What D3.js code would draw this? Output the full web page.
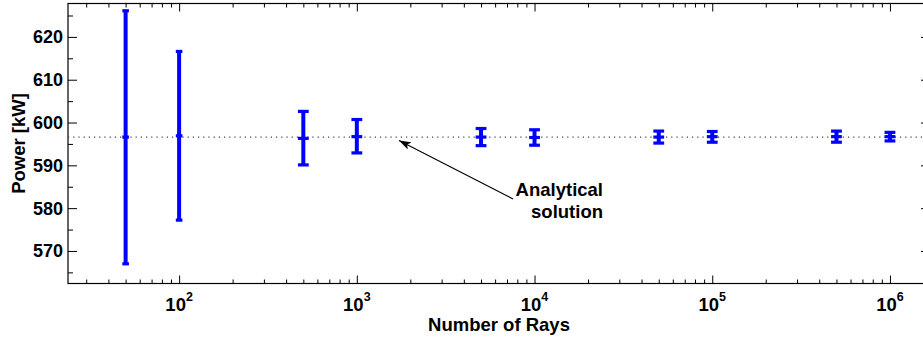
<!DOCTYPE html>
<html>
<head>
<meta charset="utf-8">
<script src="https://cdn.jsdelivr.net/npm/d3@7"></script>
<style>
  body { margin: 0; background: #fff; }
  text { font-family: "Liberation Sans", Arial, sans-serif; font-weight: bold; fill: #000; }
</style>
</head>
<body>
<div id="chart"></div>
<script>
// data
let rays = [50, 100, 500, 1000, 5000, 10000, 50000, 100000, 500000, 1000000];
let powerMean  = [596.6, 596.9, 596.3, 596.7, 596.6, 596.5, 596.6, 596.7, 596.7, 596.7];
let powerUpper = [626.1, 616.6, 602.6, 600.7, 598.6, 598.3, 598.0, 597.9, 598.0, 597.7];
let powerLower = [567.0, 577.2, 590.1, 592.9, 594.6, 594.7, 595.2, 595.4, 595.4, 595.7];
let analytical = 596.6;
let xTickValues = [100, 1000, 10000, 100000, 1000000];
let xTickExp = ['2', '3', '4', '5', '6'];
let yTickValues = [570, 580, 590, 600, 610, 620];

let data = rays.map((r, i) => ({rays: r, mean: powerMean[i], hi: powerUpper[i], lo: powerLower[i]}));

let width = 923, height = 342;
let margin = {top: 3.5, bottom: 58.5, left: 68, right: -7};

let svg = d3.select('#chart')
  .append('svg')
  .attr('width', width)
  .attr('height', height)
  .style('display', 'block');

let x = d3.scaleLog()
  .domain([23.7, 1.68e6])
  .range([margin.left, width - margin.right]);

let y = d3.scaleLinear()
  .domain([562.4, 627.8])
  .range([height - margin.bottom, margin.top]);

let x0 = margin.left, x1 = width - margin.right;
let y0 = height - margin.bottom, y1 = margin.top;

// minor ticks
let xMinor = [];
for (let e = 1; e <= 6; e++) {
  for (let m = 2; m <= 9; m++) {
    let v = m * Math.pow(10, e);
    if (v > x.domain()[0] && v < x.domain()[1]) xMinor.push(v);
  }
}
let yMinor = d3.range(565, 630, 10);

function axisLines(g) {
  g.selectAll('.domain').remove();
  g.selectAll('line').attr('stroke', '#000').attr('stroke-width', 1);
}

// bottom & top ticks (inward)
svg.append('g').attr('transform', `translate(0,${y0})`)
  .call(d3.axisBottom(x).tickValues(xTickValues).tickSize(-8).tickFormat(''))
  .call(axisLines);
svg.append('g').attr('transform', `translate(0,${y0})`)
  .call(d3.axisBottom(x).tickValues(xMinor).tickSize(-4).tickFormat(''))
  .call(axisLines);
svg.append('g').attr('transform', `translate(0,${y1})`)
  .call(d3.axisTop(x).tickValues(xTickValues).tickSize(-8).tickFormat(''))
  .call(axisLines);
svg.append('g').attr('transform', `translate(0,${y1})`)
  .call(d3.axisTop(x).tickValues(xMinor).tickSize(-4).tickFormat(''))
  .call(axisLines);

// left & right ticks (inward)
svg.append('g').attr('transform', `translate(${x0},0)`)
  .call(d3.axisLeft(y).tickValues(yTickValues).tickSize(-9).tickFormat(''))
  .call(axisLines);
svg.append('g').attr('transform', `translate(${x0},0)`)
  .call(d3.axisLeft(y).tickValues(yMinor).tickSize(-5).tickFormat(''))
  .call(axisLines);
svg.append('g').attr('transform', `translate(${x1},0)`)
  .call(d3.axisRight(y).tickValues(yTickValues).tickSize(-9).tickFormat(''))
  .call(axisLines);
svg.append('g').attr('transform', `translate(${x1},0)`)
  .call(d3.axisRight(y).tickValues(yMinor).tickSize(-5).tickFormat(''))
  .call(axisLines);

// box
svg.append('rect')
  .attr('x', x0).attr('y', y1)
  .attr('width', x1 - x0).attr('height', y0 - y1)
  .attr('fill', 'none').attr('stroke', '#000').attr('stroke-width', 1.2);

// y tick labels
svg.selectAll('.ylab')
  .data(yTickValues)
  .enter()
  .append('text')
  .attr('x', x0 - 5)
  .attr('y', d => y(d))
  .attr('dy', '0.36em')
  .attr('text-anchor', 'end')
  .style('font-size', '18px')
  .text(d => d);

// x tick labels 10^n
let xl = svg.selectAll('.xlab')
  .data(xTickValues)
  .enter()
  .append('text')
  .attr('x', d => x(d))
  .attr('y', 310.5)
  .attr('text-anchor', 'middle')
  .style('font-size', '18.5px');
xl.append('tspan').text('10');
xl.append('tspan')
  .attr('dy', -10)
  .style('font-size', '12.5px')
  .text((d, i) => xTickExp[i]);

// axis labels
svg.append('text')
  .attr('x', (x0 + x1) / 2)
  .attr('y', 331)
  .attr('text-anchor', 'middle')
  .style('font-size', '18.5px')
  .text('Number of Rays');

svg.append('text')
  .attr('transform', `translate(25,${(y0 + y1) / 2}) rotate(-90)`)
  .attr('text-anchor', 'middle')
  .style('font-size', '18.5px')
  .text('Power [kW]');

// analytical solution line
svg.append('line')
  .attr('x1', x0).attr('x2', x1)
  .attr('y1', y(analytical)).attr('y2', y(analytical))
  .attr('stroke', '#444')
  .attr('stroke-width', 1.2)
  .attr('stroke-dasharray', '1.2,4');

// error bars
let capHalf = d => d.rays <= 100 ? 3.3 : 5.4;
let bars = svg.append('g');
bars.selectAll('.bar')
  .data(data)
  .enter()
  .append('line')
  .attr('x1', d => x(d.rays)).attr('x2', d => x(d.rays))
  .attr('y1', d => y(d.hi)).attr('y2', d => y(d.lo))
  .attr('stroke', '#0000ff')
  .attr('stroke-width', 4);

['hi', 'lo', 'mean'].forEach(k => {
  bars.selectAll('.cap-' + k)
    .data(data)
    .enter()
    .append('line')
    .attr('x1', d => x(d.rays) - capHalf(d))
    .attr('x2', d => x(d.rays) + capHalf(d))
    .attr('y1', d => y(d[k])).attr('y2', d => y(d[k]))
    .attr('stroke', '#0000ff')
    .attr('stroke-width', 3.2);
});

// annotation arrow
svg.append('defs').append('marker')
  .attr('id', 'arrow')
  .attr('viewBox', '0 0 12 8')
  .attr('refX', 12).attr('refY', 4)
  .attr('markerWidth', 12).attr('markerHeight', 8)
  .attr('markerUnits', 'userSpaceOnUse')
  .attr('orient', 'auto')
  .append('path')
  .attr('d', 'M0,0 L12,4 L0,8 L3,4 Z')
  .attr('fill', '#000');

svg.append('line')
  .attr('x1', 513).attr('y1', 199)
  .attr('x2', 399).attr('y2', 140.5)
  .attr('stroke', '#000')
  .attr('stroke-width', 1.1)
  .attr('marker-end', 'url(#arrow)');

svg.append('text')
  .attr('x', 603).attr('y', 196)
  .attr('text-anchor', 'end')
  .style('font-size', '18.5px')
  .text('Analytical');
svg.append('text')
  .attr('x', 603).attr('y', 218)
  .attr('text-anchor', 'end')
  .style('font-size', '18.5px')
  .text('solution');
</script>
</body>
</html>
